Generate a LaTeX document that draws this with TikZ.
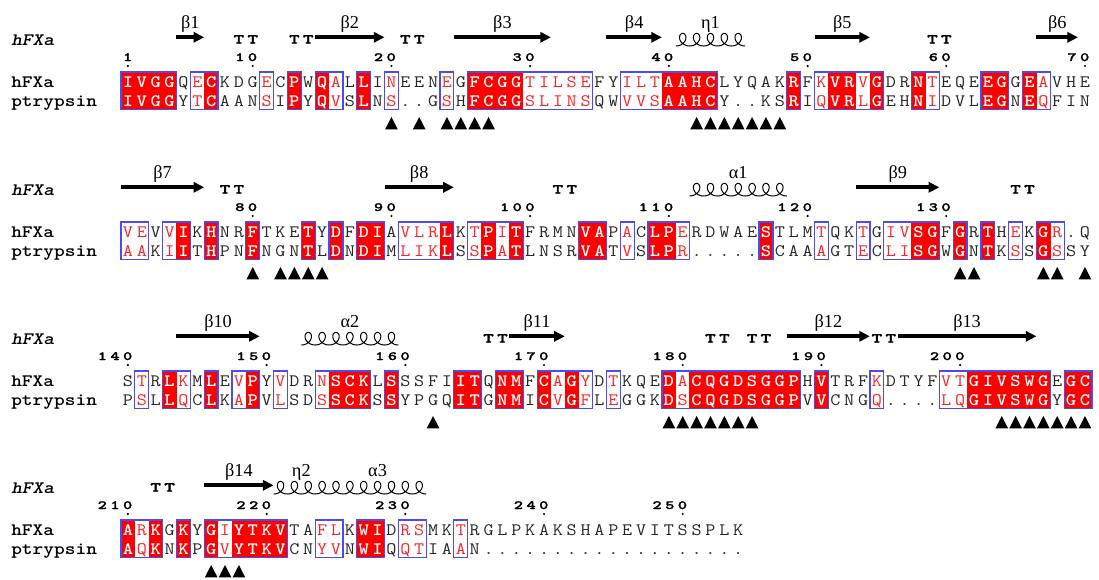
\documentclass[tikz,border=0pt]{standalone}
\usepackage{fontspec}
\usepackage{xstring}
\usetikzlibrary{arrows.meta}

\newfontfamily\greekfont{Liberation Serif}
\newfontfamily\heavytt{lmmonolt10-bold.otf}[FakeBold=1.5]
\definecolor{identred}{RGB}{255,0,0}
\definecolor{simred}{RGB}{255,35,35}
\definecolor{frameblue}{RGB}{75,75,245}

\newcommand\resfont{\ttfamily\fontsize{13.1}{15}\selectfont}
\newcommand\lblfont{\ttfamily\bfseries\fontsize{13.1}{15}\selectfont}
\newcommand\numfont{\heavytt\fontsize{9.4}{11}\selectfont}
\newcommand\turnfont{\heavytt\fontsize{10.2}{12}\selectfont}
\newcommand\wide[2]{\scalebox{#1}[1]{#2}}

% one digit per column step
\newcommand\spaced[1]{\edef\tmpd{#1}\expandafter\spacedaux\tmpd\relax}
\def\spacedaux#1{\ifx\relax#1\else\makebox[9.5pt]{\wide{1.4}{#1}}\expandafter\spacedaux\fi}

% #1 top of boxes, #2 columns, #3 hFXa, #4 ptrypsin, #5 classes (I ident, S simil, . none)
\newcommand\alnrow[5]{%
  \node[lbl] (hfxa#1) at (11,#1+15.6) {\wide{1.17}{hFXa}};
  \node[lbl] (ptryp#1) at (11,#1+34.3) {\wide{1.17}{ptrypsin}};
  \foreach \i in {1,...,#2}{%
    \StrChar{#5}{\i}[\cls]%
    \if I\cls
      \fill[identred] ({121+13.87*(\i-1)-0.2},#1) rectangle ({121+13.87*\i+0.2},#1+37.6);
    \fi
  }
  \foreach \i in {1,...,#2}{%
    \pgfmathtruncatemacro\ia{\i+1}%
    \pgfmathtruncatemacro\ib{\i+2}%
    \StrChar{.#5.}{\i}[\clsL]%
    \StrChar{.#5.}{\ia}[\cls]%
    \StrChar{.#5.}{\ib}[\clsR]%
    \StrChar{#3}{\i}[\resA]%
    \StrChar{#4}{\i}[\resB]%
    \pgfmathsetmacro\xl{121+13.87*(\i-1)}%
    \pgfmathsetmacro\xr{121+13.87*\i}%
    \pgfmathsetmacro\xc{121+13.87*(\i-0.5)}%
    \if .\cls
      \def\rcol{black!85}\def\rser{\mdseries}%
    \else
      \draw[boxline] (\xl,#1) -- (\xr,#1) (\xl,#1+37.6) -- (\xr,#1+37.6);
      \if .\clsL \draw[boxline] (\xl,#1) -- (\xl,#1+37.6); \fi
      \if .\clsR \draw[boxline] (\xr,#1) -- (\xr,#1+37.6); \fi
      \if I\cls \def\rcol{white}\def\rser{\bfseries}\else \def\rcol{simred}\def\rser{\mdseries}\fi
    \fi
    \node[res,text=\rcol,font=\resfont\rser] (a#1-\i) at (\xc,#1+15.6) {\wide{1.12}{\resA}};
    \node[res,text=\rcol,font=\resfont\rser] (b#1-\i) at (\xc,#1+34.3) {\wide{1.12}{\resB}};
  }
}

\begin{document}
\begin{tikzpicture}[x=0.75pt,y=-0.75pt,
  res/.style={anchor=base,inner sep=0pt},
  lbl/.style={anchor=base west,inner sep=0pt,font=\lblfont},
  boxline/.style={frameblue,line width=0.9pt,line cap=rect},
  strand/.style={line width=3.2pt,-{Triangle[length=8pt,width=7.6pt]}},
  helix/.style={line width=0.75pt},
  sslbl/.style={anchor=base,inner sep=0pt,font=\greekfont\fontsize{13.7}{16}\selectfont},
  ttmark/.style={anchor=base,inner sep=0pt,font=\turnfont},
  numlbl/.style={anchor=base east,inner sep=0pt,font=\numfont},
]
\useasboundingbox (0,0) rectangle (1099,579);
%%
\alnrow{72}{70}{IVGGQECKDGECPWQALLINEENEGFCGGTILSEFYILTAAHCLYQAKRFKVRVGDRNTEQEEGGEAVHE}
  {IVGGYTCAANSIPYQVSLNS..GSHFCGGSLINSQWVVSAAHCY..KSRIQVRLGEHNIDVLEGNEQFIN}
  {IIII.SI...S.I.IS.I.S...S.IIIISSSSS..SSSIIII.....I.SIISI..IS...II.IS...}
\alnrow{222}{70}{VEVVIKHNRFTKETYDFDIAVLRLKTPITFRMNVAPACLPERDWAESTLMTQKTGIVSGFGRTHEKGR.Q}
  {AAKIITHPNFNGNTLDNDIMLIKLSSPATLNSRVATVSLPR.....SCAAAGTECLISGWGNTKSSGSSY}
  {SS.SI.I..I...I.I.II.SSSI.SISI....II.S.IIS.....I...S..S.SSII.I.I.S.IS..}
\alnrow{371}{70}{STRLKMLEVPYVDRNSCKLSSSFIITQNMFCAGYDTKQEDACQGDSGGPHVTRFKDTYFVTGIVSWGEGC}
  {PSLLQCLKAPVLSDSSCKSSYPGQITGNMICVGFLEGGKDSCQGDSGGPVVCNGQ....LQGIVSWGYGC}
  {.S.IS.I.SI.S..SIII.I....II.II.ISIS.S...ISIIIIIIII.I...S....SSIIIIII.II}
\alnrow{520}{45}{ARKGKYGIYTKVTAFLKWIDRSMKTRGLPKAKSHAPEVITSSPLK}
  {AQKNKPGVYTKVCNYVNWIQQTIAAN...................}
  {ISI.I.ISIIII..SS.II.SS..S....................}
%
\foreach \t in {72,222,371,520}
  \node[lbl,font=\lblfont\slshape] (top\t) at (11,\t-27) {\wide{1.17}{hFXa}};
%
\foreach \t/\c/\n in {72/1/1,72/10/10,72/20/20,72/30/30,72/40/40,72/50/50,72/60/60,72/70/70,
    222/10/80,222/20/90,222/30/100,222/40/110,222/50/120,222/60/130,
    371/1/140,371/11/150,371/21/160,371/31/170,371/41/180,371/51/190,371/61/200,
    520/1/210,520/11/220,520/21/230,520/31/240,520/41/250}{
  \node[numlbl] (num\n) at ({121+13.87*(\c-0.5)+6.33},\t-11) {\spaced{\n}};
  \fill ({121+13.87*(\c-0.5)},\t-6) circle (1.2);
}
%
\foreach \t/\cols in {72/{9,10,13,14,21,22,59,60},222/{8,9,32,33,65,66},
    371/{27,28,43,44,46,47,55,56},520/{3,4}}{
  \foreach \c in \cols
    \node[ttmark] (tt\t-\c) at ({121+13.87*(\c-0.5)},\t-28.5) {\wide{1.5}{T}};
}
%
\foreach \t/\a/\b/\name in {72/5/6/β1,72/15/19/β2,72/25/31/β3,72/36/39/β4,72/51/54/β5,72/67/69/β6,
    222/1/6/β7,222/20/24/β8,222/54/59/β9,
    371/5/10/β10,371/29/32/β11,371/49/54/β12,371/57/66/β13,520/7/11/β14}{
  \draw[strand] ({121+13.87*(\a-1)},\t-34.7) -- ({121+13.87*\b},\t-34.7);
  \node[sslbl] (beta\t-\a) at ({121+13.87*(\a+\b-1)/2},\t-44) {\name};
}
%
\foreach \t/\a/\b in {72/41/45,222/42/48,371/14/20,520/12/22}{
  \pgfmathsetmacro\xs{121+13.87*(\a-1)}
  \pgfmathtruncatemacro\dend{180+360*(\b-\a+1)}
  \pgfmathtruncatemacro\ns{36*(\b-\a+1)+1}
  \draw[helix] plot[domain=180:\dend,samples=\ns,smooth]
    ({\xs+(\x-180)/360*13.87-6.3*sin(\x)},{\t-32.3-6.3*cos(\x)});
}
\foreach \t/\a/\b/\name in {72/41/45/η1,222/42/48/α1,371/14/20/α2,520/12/15/η2,520/16/22/α3}
  \node[sslbl] (helix\t-\a) at ({121+13.87*(\a+\b-1)/2},\t-44) {\name};
%
\foreach \t/\cols in {72/{20,22,24,25,26,27,42,43,44,45,46,47,48},222/{10,12,13,14,15,61,62,67,68,70},
    371/{23,40,41,42,43,44,45,46,64,65,66,67,68,69,70},520/{7,8,9}}{
  \foreach \c in \cols{
    \pgfmathsetmacro\xc{121+13.87*(\c-0.5)}
    \fill (\xc-6.3,\t+57.3) -- (\xc+6.3,\t+57.3) -- (\xc,\t+45) -- cycle;
  }
}
%
\end{tikzpicture}
\end{document}
